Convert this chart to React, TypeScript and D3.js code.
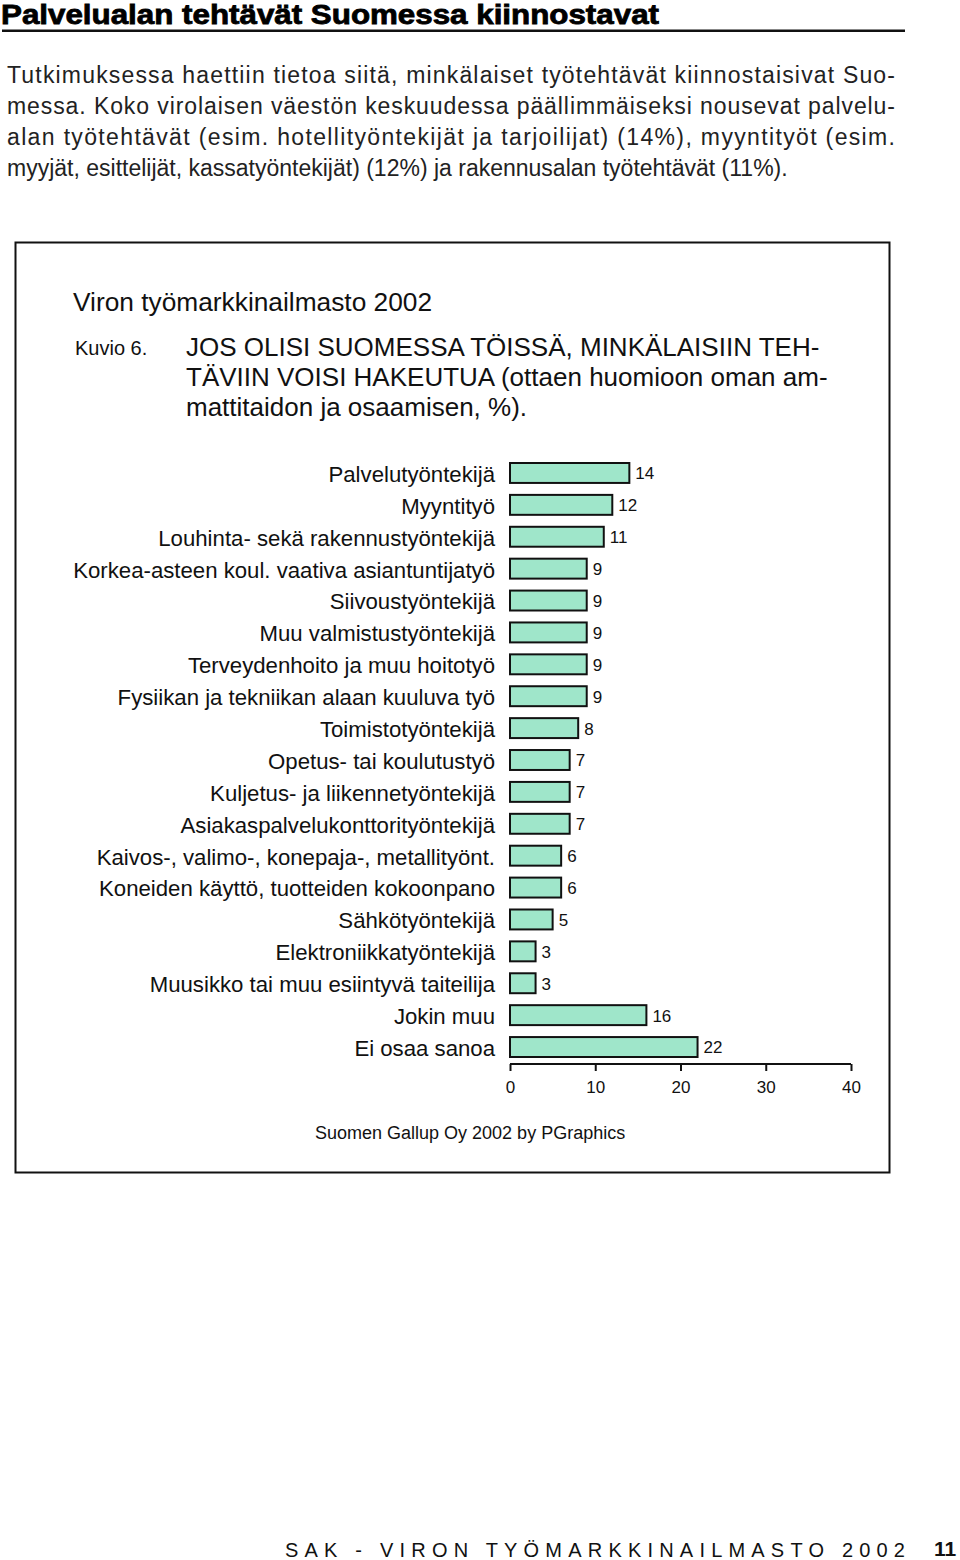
import React, { useEffect, useRef } from 'react';
import * as d3 from 'd3';

const categories = [
  'Palvelutyöntekijä',
  'Myyntityö',
  'Louhinta- sekä rakennustyöntekijä',
  'Korkea-asteen koul. vaativa asiantuntijatyö',
  'Siivoustyöntekijä',
  'Muu valmistustyöntekijä',
  'Terveydenhoito ja muu hoitotyö',
  'Fysiikan ja tekniikan alaan kuuluva työ',
  'Toimistotyöntekijä',
  'Opetus-  tai koulutustyö',
  'Kuljetus- ja liikennetyöntekijä',
  'Asiakaspalvelukonttorityöntekijä',
  'Kaivos-, valimo-, konepaja-, metallityönt.',
  'Koneiden käyttö, tuotteiden kokoonpano',
  'Sähkötyöntekijä',
  'Elektroniikkatyöntekijä',
  'Muusikko tai muu esiintyvä taiteilija',
  'Jokin muu',
  'Ei osaa sanoa',
];

const values = [14, 12, 11, 9, 9, 9, 9, 9, 8, 7, 7, 7, 6, 6, 5, 3, 3, 16, 22];

const ticks = [0, 10, 20, 30, 40];

const paragraph = [
  'Tutkimuksessa haettiin tietoa siitä, minkälaiset työtehtävät kiinnostaisivat Suo-',
  'messa. Koko virolaisen väestön keskuudessa päällimmäiseksi nousevat palvelu-',
  'alan työtehtävät (esim. hotellityöntekijät ja tarjoilijat) (14%), myyntityöt (esim.',
  'myyjät, esittelijät, kassatyöntekijät) (12%) ja rakennusalan työtehtävät (11%).',
];

const titleLines = [
  'JOS OLISI SUOMESSA TÖISSÄ, MINKÄLAISIIN TEH-',
  'TÄVIIN VOISI HAKEUTUA (ottaen huomioon oman am-',
  'mattitaidon ja osaamisen, %).',
];

const App: React.FC = () => {
  const svgRef = useRef<SVGSVGElement | null>(null);

  useEffect(() => {
    document.body.style.margin = '0';
    if (!svgRef.current) return;
    const svg = d3.select(svgRef.current);
    svg.selectAll('*').remove();

    const font = 'Liberation Sans, Arial, Helvetica, sans-serif';
    svg.attr('width', 960).attr('height', 1560).style('font-family', font).style('display', 'block');

    svg.append('rect').attr('width', 960).attr('height', 1560).attr('fill', '#fff');

    // page header
    svg
      .append('text')
      .attr('x', 1)
      .attr('y', 24)
      .attr('font-size', 27)
      .attr('font-weight', 'bold')
      .attr('stroke', '#000')
      .attr('stroke-width', 0.8)
      .attr('textLength', 658)
      .attr('lengthAdjust', 'spacingAndGlyphs')
      .text('Palvelualan tehtävät Suomessa kiinnostavat');
    svg.append('rect').attr('x', 2).attr('y', 29.5).attr('width', 903).attr('height', 2.5).attr('fill', '#111');

    const para = svg.append('g').attr('font-size', 23).attr('fill', '#222');
    para
      .selectAll('text')
      .data(paragraph)
      .enter()
      .append('text')
      .attr('x', 7)
      .attr('y', (_, i) => 83 + i * 31)
      .attr('textLength', (_, i) => (i < 3 ? 888 : null))
      .attr('lengthAdjust', 'spacing')
      .text((d) => d);

    // frame
    svg
      .append('rect')
      .attr('x', 15.5)
      .attr('y', 242.5)
      .attr('width', 874)
      .attr('height', 930)
      .attr('fill', 'none')
      .attr('stroke', '#111')
      .attr('stroke-width', 2);

    svg
      .append('text')
      .attr('x', 73)
      .attr('y', 311)
      .attr('font-size', 26.3)
      .attr('fill', '#111')
      .text('Viron työmarkkinailmasto 2002');
    svg
      .append('text')
      .attr('x', 75)
      .attr('y', 355)
      .attr('font-size', 20)
      .attr('fill', '#111')
      .text('Kuvio 6.');
    svg
      .append('g')
      .attr('font-size', 26)
      .attr('fill', '#111')
      .selectAll('text')
      .data(titleLines)
      .enter()
      .append('text')
      .attr('x', 186)
      .attr('y', (_, i) => 356 + i * 30)
      .text((d) => d);

    // chart
    const x = d3.scaleLinear().domain([0, 40]).range([510, 851]);
    const y = d3.scaleBand<string>().domain(categories).range([463, 1057]).paddingInner(0.375).paddingOuter(0);

    const data = categories.map((c, i) => ({ label: c, value: values[i] }));

    svg
      .append('g')
      .selectAll('rect')
      .data(data)
      .enter()
      .append('rect')
      .attr('x', x(0))
      .attr('y', (d) => y(d.label)!)
      .attr('width', (d) => x(d.value) - x(0))
      .attr('height', y.bandwidth())
      .attr('fill', '#9fe6ca')
      .attr('stroke', '#111')
      .attr('stroke-width', 2);

    svg
      .append('g')
      .attr('font-size', 17)
      .attr('fill', '#111')
      .selectAll('text')
      .data(data)
      .enter()
      .append('text')
      .attr('x', (d) => x(d.value) + 6)
      .attr('y', (d) => y(d.label)! + y.bandwidth() / 2)
      .attr('dy', '0.38em')
      .text((d) => d.value);

    svg
      .append('g')
      .attr('font-size', 22.2)
      .attr('fill', '#111')
      .attr('text-anchor', 'end')
      .selectAll('text')
      .data(data)
      .enter()
      .append('text')
      .attr('x', 495)
      .attr('y', (d) => y(d.label)! + y.bandwidth() / 2)
      .attr('dy', '0.4em')
      .text((d) => d.label);

    const axis = svg
      .append('g')
      .attr('transform', 'translate(0,1064)')
      .call(d3.axisBottom(x).tickValues(ticks).tickSize(7).tickPadding(10).tickSizeOuter(0));
    axis.select('.domain').attr('stroke', '#111').attr('stroke-width', 2).attr('d', `M${x(0)},0H${x(40)}`);
    axis.selectAll('.tick line').attr('stroke', '#111').attr('stroke-width', 2).attr('y1', 0);
    axis.selectAll('.tick text').attr('font-size', 17).attr('font-family', font).attr('fill', '#111');

    svg
      .append('text')
      .attr('x', 315)
      .attr('y', 1139)
      .attr('font-size', 18)
      .attr('fill', '#111')
      .text('Suomen Gallup Oy 2002 by PGraphics');

    // footer
    svg
      .append('text')
      .attr('x', 285)
      .attr('y', 1557)
      .attr('font-size', 20)
      .attr('fill', '#111')
      .attr('textLength', 620)
      .attr('lengthAdjust', 'spacing')
      .text('SAK - VIRON TYÖMARKKINAILMASTO 2002');
    svg
      .append('text')
      .attr('x', 934)
      .attr('y', 1556)
      .attr('font-size', 21)
      .attr('font-weight', 'bold')
      .attr('fill', '#111')
      .text('11');
  }, []);

  return (
    <div>
      <svg ref={svgRef}></svg>
    </div>
  );
};

export default App;
